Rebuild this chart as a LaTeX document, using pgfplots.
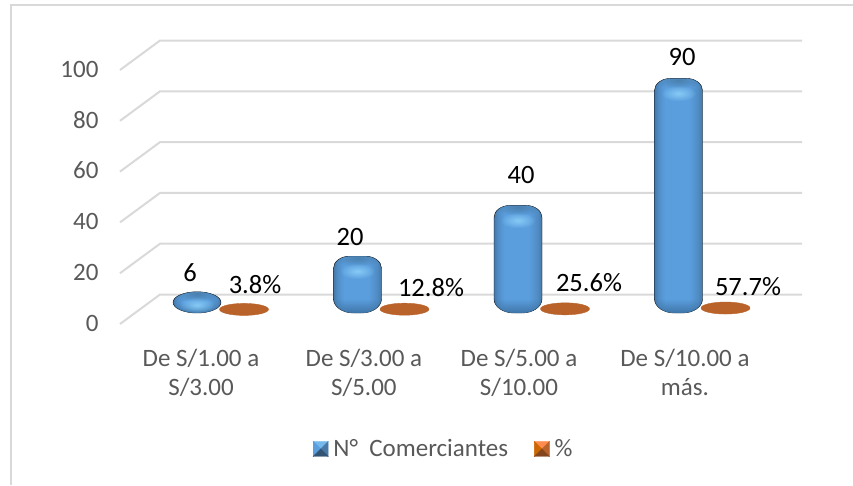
\documentclass[border=0pt]{standalone}
\usepackage{fontspec}
\setmainfont{Carlito}
\usepackage{pgfplots}
\pgfplotsset{compat=1.18}
\usetikzlibrary{fadings}
\definecolor{gridc}{HTML}{D9D9D9}
\definecolor{txtc}{HTML}{595959}
\definecolor{blmid}{HTML}{5B9EDE}
\definecolor{blside}{HTML}{508DC6}
\definecolor{bledge}{HTML}{4878A6}
\definecolor{bldark}{HTML}{3F76A8}
\definecolor{blhi}{HTML}{86CBF6}
\definecolor{blcap}{HTML}{4A80AE}
\definecolor{orc}{HTML}{B9632A}
\pgfdeclarehorizontalshading{tubeshade}{100bp}{
 color(0bp)=(bledge); color(25bp)=(bledge); color(29bp)=(blside); color(36bp)=(blmid); color(61bp)=(blmid); color(70bp)=(blside); color(75bp)=(bledge); color(100bp)=(bledge)}
\tikzfading[name=softspot, inner color=transparent!0, outer color=transparent!100]
\pgfdeclareplotmark{tube}{%
  \pgfmathsetmacro\topY{17}%
  \pgfmathsetmacro\botY{11-2.54*\valy}%
  \pgfmathsetmacro\hh{\topY-\botY}%
  \pgfmathsetmacro\ryt{\hh<30?\hh/2:12}%
  \pgfmathsetmacro\rxt{\hh<30?24:16}%
  \pgfmathsetmacro\ryb{\hh<30?\hh/2:14}%
  \pgfmathsetmacro\rxb{\hh<30?24:20}%
  \pgfmathsetmacro\tilt{\hh<30?6:0}%
  \pgfmathsetmacro\spot{\topY-min(15,\hh*0.62)}%
  \begin{scope}[x=1pt,y=1pt,draw=none,rotate around={\tilt:(0,3)}]
    \def\tubepath{(-24,\botY+\ryb) arc[start angle=180,end angle=270,x radius=\rxb,y radius=\ryb]
      -- (24-\rxb,\botY) arc[start angle=270,end angle=360,x radius=\rxb,y radius=\ryb]
      -- (24,\topY-\ryt) arc[start angle=0,end angle=90,x radius=\rxt,y radius=\ryt]
      -- (-24+\rxt,\topY) arc[start angle=90,end angle=180,x radius=\rxt,y radius=\ryt] -- cycle}
    \shade[draw=none,shading=tubeshade] \tubepath;
    \begin{scope}
      \clip \tubepath;
      \fill[draw=none,color=bldark,path fading=north] (-24,\botY) rectangle (24,\botY+\ryb);
      \fill[draw=none,color=blcap,path fading=softspot,rotate around={3:(0,\topY-2)}] (0,\topY-2) ellipse[x radius=26,y radius=8];
      \fill[draw=none,color=blhi,path fading=softspot] (0,\spot) ellipse[x radius=18,y radius=8];
    \end{scope}
  \end{scope}
}
\pgfdeclareplotmark{flatdisc}{%
  \begin{scope}[x=1pt,y=1pt]
    \fill[orc,rotate around={4:(47,14.5)}] (47,14.5) ellipse[x radius=24.5,y radius=6];
  \end{scope}
}
\newcommand{\swatch}[4]{%
  \begin{scope}[x=1pt,y=1pt,yshift=-7.5pt]
    \fill[#1] (0,15) -- (15,15) -- (7.5,7.5) -- cycle;
    \fill[#2] (0,0) -- (0,15) -- (7.5,7.5) -- cycle;
    \fill[#3] (15,0) -- (15,15) -- (7.5,7.5) -- cycle;
    \fill[#4] (0,0) -- (15,0) -- (7.5,7.5) -- cycle;
  \end{scope}}
\begin{document}
\begin{tikzpicture}
\path[use as bounding box] (0,0) rectangle (853pt,485pt);
\draw[gridc,line width=2pt] (11pt,0.5pt) -- (11pt,480pt) -- (853pt,480pt);
\begin{axis}[
  at={(120pt,161pt)},anchor=south west,
  scale only axis,width=682pt,height=254pt,
  xmin=-0.4798,xmax=3.7695,ymin=0,ymax=100,
  clip=false,
  axis line style={draw=none},
  major tick length=0pt,
  xtick={0.025,1.04,2.006,3.04},
  xticklabels={{De S/1.00 a\\S/3.00},{De S/3.00 a\\S/5.00},{De S/5.00 a\\S/10.00},{De S/10.00 a\\más.}},
  xticklabel style={align=center,text=txtc,font=\fontsize{25}{29}\selectfont,yshift=-22pt},
  ytick={0,20,40,60,80,100},
  yticklabel style={text=txtc,font=\fontsize{25}{27}\selectfont,xshift=-18pt,yshift=1pt},
  /pgf/number format/assume math mode=true,
  legend columns=2,
  legend cell align=left,
  legend style={at={(0.283,-0.492)},anchor=west,draw=none,fill=none,
    font=\fontsize{25}{27}\selectfont,text=txtc,inner sep=0pt,outer sep=0pt,
    /tikz/every even column/.append style={column sep=24pt}},
]
\pgfplotsinvokeforeach{0,20,40,60,80,100}{
  \pgfmathsetmacro\bk{#1+11.6}
  \edef\tmp{\noexpand\addplot[gridc,line width=2pt,forget plot] coordinates {(-0.4798,#1) (-0.2305,\bk) (3.7695,\bk)};}
  \tmp
}
\addplot[scatter,only marks,mark=tube,scatter src=y,
  scatter/use mapped color={draw=none,fill=none},
  visualization depends on={y\as\valy},
  legend image code/.code={\swatch{blhi!60!blmid}{blmid}{bledge}{bledge!70!black}}]
  coordinates {(0,6) (1,20) (2,40) (3,90)};
\addlegendentry{\hspace{3pt}N°\ \ Comerciantes}
\addplot[only marks,mark=flatdisc,
  legend image code/.code={\swatch{orange!70!red!70!white}{orange!80!black}{orc}{orc!70!black}}]
  coordinates {(0,0.038) (1,0.128) (2,0.256) (3,0.577)};
\addlegendentry{\hspace{3pt}\%}
\end{axis}
\begin{scope}[x=1pt,y=-1pt,yshift=485pt]
  \tikzset{dl/.style={font=\fontsize{26.5}{27}\selectfont,text=black,inner sep=0pt}}
  \node[dl] at (190,273) {6};
  \node[dl] at (350,237) {20};
  \node[dl] at (521,175) {40};
  \node[dl] at (682,57) {90};
  \node[dl] at (255,285) {3.8\%};
  \node[dl] at (431,288) {12.8\%};
  \node[dl] at (589,283) {25.6\%};
  \node[dl] at (748,287) {57.7\%};
\end{scope}
\end{tikzpicture}
\end{document}
